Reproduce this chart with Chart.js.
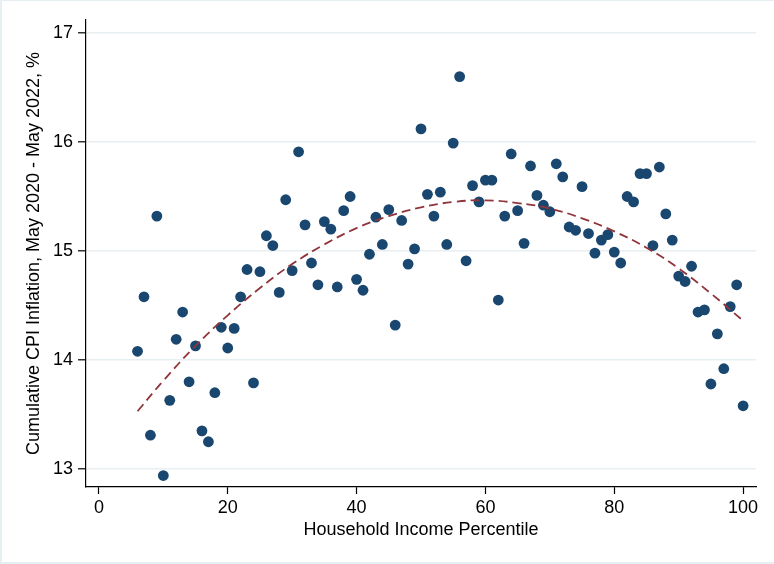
<!DOCTYPE html>
<html>
<head>
<meta charset="utf-8">
<title>CPI inflation by income percentile</title>
<script src="https://cdn.jsdelivr.net/npm/chart.js@4/dist/chart.umd.min.js"></script>
<style>
    html, body { margin: 0; padding: 0; background: #fff; }
    #wrap { position: relative; width: 774px; height: 564px; }
    #frame {
        position: absolute; left: 0; top: 0; right: 0; bottom: 0;
        border-left: 2px solid #e8eff2;
        border-top: 1px solid #e8eff2;
        border-bottom: 2px solid #e8eff2;
        pointer-events: none;
    }
</style>
</head>
<body>
<div id="wrap">
    <canvas id="cpiChart" width="774" height="564"></canvas>
    <div id="frame"></div>
</div>
<script>
// household income percentile (x) and cumulative CPI inflation (y)
const percentiles = [
    6, 7, 8, 9, 10, 11, 12, 13, 14, 15, 16, 17, 18, 19, 20, 21, 22, 23, 24, 25,
    26, 27, 28, 29, 30, 31, 32, 33, 34, 35, 36, 37, 38, 39, 40, 41, 42, 43, 44, 45,
    46, 47, 48, 49, 50, 51, 52, 53, 54, 55, 56, 57, 58, 59, 60, 61, 62, 63, 64, 65,
    66, 67, 68, 69, 70, 71, 72, 73, 74, 75, 76, 77, 78, 79, 80, 81, 82, 83, 84, 85,
    86, 87, 88, 89, 90, 91, 92, 93, 94, 95, 96, 97, 98, 99, 100
];
const inflation = [
    14.08, 14.58, 13.31, 15.32, 12.94, 13.63, 14.19, 14.44, 13.80, 14.13,
    13.35, 13.25, 13.70, 14.30, 14.11, 14.29, 14.58, 14.83, 13.79, 14.81,
    15.14, 15.05, 14.62, 15.47, 14.82, 15.91, 15.24, 14.89, 14.69, 15.27,
    15.20, 14.67, 15.37, 15.50, 14.74, 14.64, 14.97, 15.31, 15.06, 15.38,
    14.32, 15.28, 14.88, 15.02, 16.12, 15.52, 15.32, 15.54, 15.06, 15.99,
    16.60, 14.91, 15.60, 15.45, 15.65, 15.65, 14.55, 15.32, 15.89, 15.37,
    15.07, 15.78, 15.51, 15.42, 15.36, 15.80, 15.68, 15.22, 15.19, 15.59,
    15.16, 14.98, 15.10, 15.15, 14.99, 14.89, 15.50, 15.45, 15.71, 15.71,
    15.05, 15.77, 15.34, 15.10, 14.77, 14.72, 14.86, 14.44, 14.46, 13.78,
    14.24, 13.92, 14.49, 14.69, 13.58
];

// quadratic fit curve, sampled along x
const fitX = [6, 10, 15, 20, 25, 30, 35, 40, 45, 50, 55, 60, 65, 70, 75, 80, 85, 90, 95, 100];
const fitY = [13.53, 13.81, 14.13, 14.41, 14.66, 14.88, 15.06, 15.21, 15.32, 15.40,
              15.45, 15.465, 15.44, 15.39, 15.30, 15.18, 15.03, 14.84, 14.61, 14.36];

const xTicks = [0, 20, 40, 60, 80, 100];
const yTicks = [13, 14, 15, 16, 17];

const font = { family: '"Liberation Sans", Arial, sans-serif', size: 18 };

function initChart() {
    const ctx = document.getElementById('cpiChart').getContext('2d');
    new Chart(ctx, {
        type: 'scatter',
        data: {
            datasets: [
                {
                    type: 'line',
                    label: 'Fitted values',
                    data: fitX.map((x, i) => ({ x: x, y: fitY[i] })),
                    borderColor: '#90353b',
                    borderWidth: 1.8,
                    borderDash: [9, 5],
                    pointRadius: 0,
                    tension: 0.4,
                    fill: false,
                    order: 0
                },
                {
                    label: 'CPI inflation',
                    data: percentiles.map((x, i) => ({ x: x, y: inflation[i] })),
                    backgroundColor: '#1a476f',
                    borderWidth: 0,
                    pointRadius: 5.4,
                    order: 1
                }
            ]
        },
        options: {
            responsive: false,
            animation: false,
            devicePixelRatio: 1,
            layout: { padding: { left: 23, right: 18, top: 20, bottom: 23 } },
            plugins: {
                legend: { display: false },
                tooltip: { enabled: false }
            },
            scales: {
                x: {
                    type: 'linear',
                    min: -2,
                    max: 102,
                    afterBuildTicks: axis => { axis.ticks = xTicks.map(v => ({ value: v })); },
                    afterFit: axis => { axis.height = 54; },
                    border: { color: '#000', width: 1.2 },
                    grid: {
                        drawOnChartArea: false,
                        drawTicks: true,
                        tickLength: 7,
                        tickColor: '#000',
                        tickWidth: 1.2
                    },
                    ticks: { color: '#000', font: font, padding: 3, maxRotation: 0 },
                    title: {
                        display: true,
                        text: 'Household Income Percentile',
                        color: '#000',
                        font: font,
                        padding: { top: 0, bottom: 0 }
                    }
                },
                y: {
                    type: 'linear',
                    min: 12.835,
                    max: 17.119,
                    afterBuildTicks: axis => { axis.ticks = yTicks.map(v => ({ value: v })); },
                    afterFit: axis => { axis.width = 63; },
                    border: { color: '#000', width: 1.2 },
                    grid: {
                        color: '#e8eff2',
                        lineWidth: 1.6,
                        drawTicks: true,
                        tickLength: 8,
                        tickColor: '#000',
                        tickWidth: 1.2
                    },
                    ticks: { color: '#000', font: font, padding: 5 },
                    title: {
                        display: true,
                        text: 'Cumulative CPI Inflation, May 2020 - May 2022, %',
                        color: '#000',
                        font: font,
                        padding: { top: 0, bottom: 4 }
                    }
                }
            }
        }
    });
}

document.addEventListener('DOMContentLoaded', initChart);
</script>
</body>
</html>
